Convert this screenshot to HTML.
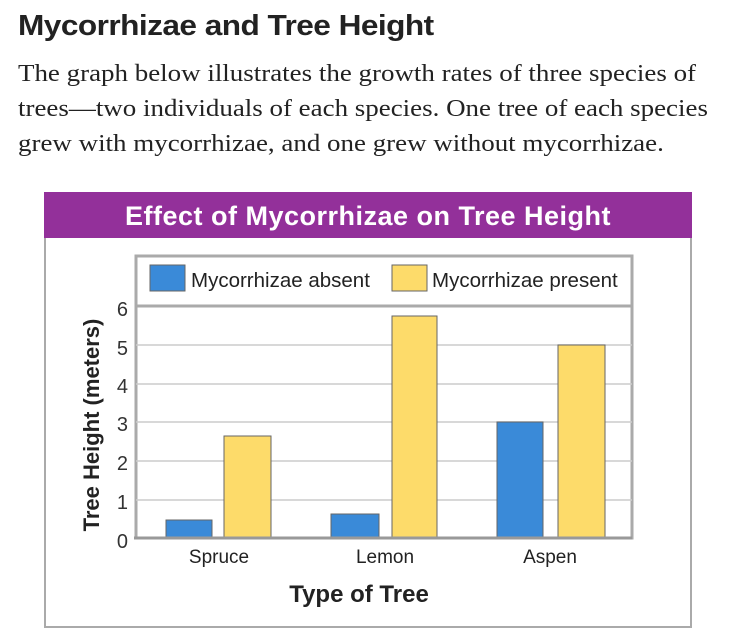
<!DOCTYPE html>
<html><head><meta charset="utf-8"><style>
body{margin:0;width:732px;height:636px;background:#fff;position:relative;overflow:hidden;font-family:"Liberation Sans",sans-serif}
.a{position:absolute}
</style></head><body>
<div class="a" style="left:18px;top:10px;font-size:29px;font-weight:bold;color:#222;letter-spacing:-0.5px;transform:scaleX(1.09);transform-origin:0 0">Mycorrhizae and Tree Height</div>
<div class="a" style="left:18px;top:56px;width:680px;font-family:'Liberation Serif',serif;font-size:24.5px;line-height:35px;color:#222;transform:scaleX(1.1);transform-origin:0 0;white-space:nowrap">The graph below illustrates the growth rates of three species of<br>trees—two individuals of each species. One tree of each species<br>grew with mycorrhizae, and one grew without mycorrhizae.</div>
<div class="a" style="left:44px;top:192px;width:644px;height:434px;border:2px solid #aaa;border-top:none"></div>
<div class="a" style="left:44px;top:192px;width:648px;height:46px;background:#93309a;color:#fff;font-size:27px;font-weight:bold;text-align:center;line-height:48px;letter-spacing:0.5px">Effect of Mycorrhizae on Tree Height</div>
<svg class="a" style="left:0;top:0" width="732" height="636">
<rect x="136" y="256" width="496" height="282" fill="#fff" stroke="#aaa" stroke-width="3"/>
<line x1="136" y1="306" x2="632" y2="306" stroke="#aaa" stroke-width="3"/>
<g stroke="#ccc" stroke-width="1.5">
<line x1="136" y1="345" x2="632" y2="345"/><line x1="136" y1="384" x2="632" y2="384"/>
<line x1="136" y1="422" x2="632" y2="422"/><line x1="136" y1="461" x2="632" y2="461"/>
<line x1="136" y1="500" x2="632" y2="500"/></g>
<g stroke="#666" stroke-width="1">
<rect x="150" y="265" width="35" height="26" fill="#3a8ad8"/>
<rect x="392" y="265" width="35" height="26" fill="#fddb6a"/>
<rect x="166" y="520" width="46" height="18" fill="#3a8ad8"/>
<rect x="224" y="436" width="47" height="102" fill="#fddb6a"/>
<rect x="331" y="514" width="48" height="24" fill="#3a8ad8"/>
<rect x="392" y="316" width="45" height="222" fill="#fddb6a"/>
<rect x="497" y="422" width="46" height="116" fill="#3a8ad8"/>
<rect x="558" y="345" width="47" height="193" fill="#fddb6a"/>
</g>
<line x1="134" y1="538" x2="632" y2="538" stroke="#999" stroke-width="3"/>
<g font-size="20.5" fill="#222">
<text x="191" y="287">Mycorrhizae absent</text>
<text x="432" y="287">Mycorrhizae present</text>
</g>
<g font-size="20" fill="#333" text-anchor="end">
<text x="128" y="316">6</text><text x="128" y="355">5</text><text x="128" y="393">4</text>
<text x="128" y="431">3</text><text x="128" y="470">2</text><text x="128" y="509">1</text><text x="128" y="548">0</text>
</g>
<g font-size="19" fill="#222" text-anchor="middle">
<text x="219" y="563">Spruce</text><text x="385" y="563">Lemon</text><text x="550" y="563">Aspen</text>
</g>
<text x="359" y="602" font-size="24" font-weight="bold" fill="#222" text-anchor="middle">Type of Tree</text>
<text transform="translate(99,425) rotate(-90)" font-size="22" font-weight="bold" fill="#222" text-anchor="middle">Tree Height (meters)</text>
</svg>
</body></html>
